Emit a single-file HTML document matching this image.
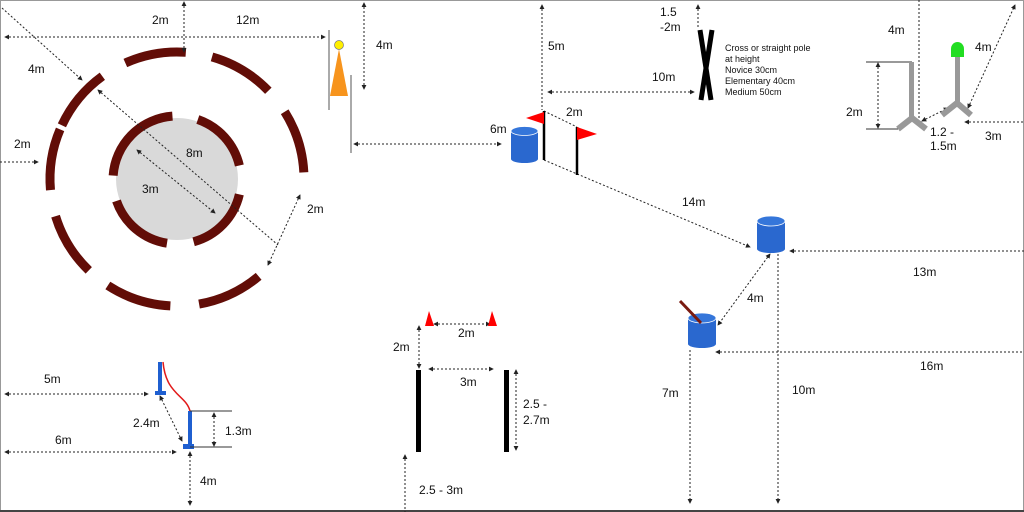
<!DOCTYPE html>
<html><head><meta charset="utf-8"><style>
html,body{margin:0;padding:0;background:#fff}
svg{display:block}
text{font-family:"Liberation Sans",Arial,sans-serif;font-size:12px;fill:#111}
.d{stroke:#222;stroke-width:1;stroke-dasharray:2 2;fill:none}
.s{font-size:9px}
</style></head><body>
<svg width="1024" height="512" viewBox="0 0 1024 512" xmlns="http://www.w3.org/2000/svg">
<defs>
<marker id="a" viewBox="0 0 6 6" refX="5" refY="3" markerWidth="5" markerHeight="5" orient="auto-start-reverse"><path d="M0,0 L6,3 L0,6 z" fill="#222"/></marker>
</defs>
<rect x="0.5" y="0.5" width="1023" height="510" fill="#fff" stroke="#999"/>
<line x1="0" y1="511" x2="1024" y2="511" stroke="#444" stroke-width="2"/>

<!-- circles -->
<circle cx="177" cy="179" r="61" fill="#d9d9d9"/>
<g fill="none" stroke="#620d07" stroke-width="9">
<circle cx="177" cy="179" r="127" pathLength="360" stroke-dasharray="28 400" transform="rotate(246 177 179)"/>
<circle cx="177" cy="179" r="127" pathLength="360" stroke-dasharray="30 400" transform="rotate(286 177 179)"/>
<circle cx="177" cy="179" r="127" pathLength="360" stroke-dasharray="29 400" transform="rotate(328 177 179)"/>
<circle cx="177" cy="179" r="127" pathLength="360" stroke-dasharray="30 400" transform="rotate(50 177 179)"/>
<circle cx="177" cy="179" r="127" pathLength="360" stroke-dasharray="30 400" transform="rotate(93 177 179)"/>
<circle cx="177" cy="179" r="127" pathLength="360" stroke-dasharray="29 400" transform="rotate(134 177 179)"/>
<circle cx="177" cy="179" r="127" pathLength="360" stroke-dasharray="28 400" transform="rotate(175 177 179)"/>
<circle cx="177" cy="179" r="127" pathLength="360" stroke-dasharray="29 400" transform="rotate(205 177 179)"/>
<circle cx="177" cy="180" r="64" pathLength="360" stroke-dasharray="82 400" transform="rotate(184 177 180)"/>
<circle cx="177" cy="180" r="64" pathLength="360" stroke-dasharray="58 400" transform="rotate(289 177 180)"/>
<circle cx="177" cy="180" r="64" pathLength="360" stroke-dasharray="62 400" transform="rotate(13 177 180)"/>
<circle cx="177" cy="180" r="64" pathLength="360" stroke-dasharray="62 400" transform="rotate(99 177 180)"/>
</g>

<!-- dashed dimension lines -->
<g class="d">
<line x1="2" y1="8" x2="82" y2="80" marker-end="url(#a)"/>
<line x1="5" y1="37" x2="325" y2="37" marker-start="url(#a)" marker-end="url(#a)"/>
<line x1="184" y1="2" x2="184" y2="52" marker-start="url(#a)" marker-end="url(#a)"/>
<line x1="0" y1="162" x2="38" y2="162" marker-end="url(#a)"/>
<line x1="98" y1="90" x2="278" y2="245" marker-start="url(#a)"/>
<line x1="137" y1="150" x2="215" y2="213" marker-start="url(#a)" marker-end="url(#a)"/>
<line x1="300" y1="195" x2="268" y2="265" marker-start="url(#a)" marker-end="url(#a)"/>
<line x1="364" y1="3" x2="364" y2="89" marker-start="url(#a)" marker-end="url(#a)"/>
<line x1="354" y1="144" x2="501" y2="144" marker-start="url(#a)" marker-end="url(#a)"/>
<line x1="542" y1="5" x2="542" y2="110" marker-start="url(#a)"/>
<line x1="548" y1="92" x2="694" y2="92" marker-start="url(#a)" marker-end="url(#a)"/>
<line x1="698" y1="5" x2="698" y2="28" marker-start="url(#a)"/>
<line x1="544" y1="111" x2="577" y2="127"/>
<line x1="544" y1="160" x2="750" y2="247" marker-end="url(#a)"/>
<line x1="919" y1="0" x2="919" y2="125" marker-end="url(#a)"/>
<line x1="878" y1="63" x2="878" y2="128" marker-start="url(#a)" marker-end="url(#a)"/>
<line x1="922" y1="121" x2="948" y2="108" marker-start="url(#a)" marker-end="url(#a)"/>
<line x1="968" y1="108" x2="1015" y2="5" marker-start="url(#a)" marker-end="url(#a)"/>
<line x1="965" y1="122" x2="1024" y2="122" marker-start="url(#a)"/>
<line x1="790" y1="251" x2="1024" y2="251" marker-start="url(#a)"/>
<line x1="770" y1="254" x2="718" y2="325" marker-start="url(#a)" marker-end="url(#a)"/>
<line x1="690" y1="350" x2="690" y2="503" marker-end="url(#a)"/>
<line x1="778" y1="254" x2="778" y2="503" marker-end="url(#a)"/>
<line x1="716" y1="352" x2="1024" y2="352" marker-start="url(#a)"/>
<line x1="434" y1="324" x2="490" y2="324" marker-start="url(#a)" marker-end="url(#a)"/>
<line x1="419" y1="326" x2="419" y2="368" marker-start="url(#a)" marker-end="url(#a)"/>
<line x1="429" y1="369" x2="493" y2="369" marker-start="url(#a)" marker-end="url(#a)"/>
<line x1="516" y1="370" x2="516" y2="450" marker-start="url(#a)" marker-end="url(#a)"/>
<line x1="405" y1="455" x2="405" y2="512" marker-start="url(#a)"/>
<line x1="5" y1="394" x2="148" y2="394" marker-start="url(#a)" marker-end="url(#a)"/>
<line x1="160" y1="396" x2="182" y2="441" marker-start="url(#a)" marker-end="url(#a)"/>
<line x1="214" y1="413" x2="214" y2="446" marker-start="url(#a)" marker-end="url(#a)"/>
<line x1="5" y1="452" x2="176" y2="452" marker-start="url(#a)" marker-end="url(#a)"/>
<line x1="190" y1="452" x2="190" y2="505" marker-start="url(#a)" marker-end="url(#a)"/>
</g>

<!-- cone with poles -->
<line x1="329" y1="30" x2="329" y2="110" stroke="#555" stroke-width="1"/>
<line x1="351" y1="75" x2="351" y2="153" stroke="#555" stroke-width="1"/>
<polygon points="339,49 330,96 348,96" fill="#f7941d"/>
<circle cx="339" cy="45" r="4.5" fill="#ffef00" stroke="#777" stroke-width="0.7"/>

<!-- barrel 1 -->
<rect x="511" y="131" width="27" height="28" fill="#2a68cf"/>
<ellipse cx="524.5" cy="159" rx="13.5" ry="4" fill="#2a68cf"/>
<ellipse cx="524.5" cy="131" rx="13.5" ry="4.5" fill="#3576da" stroke="#fff" stroke-width="0.8"/>
<!-- flags -->
<line x1="544" y1="111" x2="544" y2="160" stroke="#000" stroke-width="2.5"/>
<polygon points="544,112 526,118 544,124" fill="#f00"/>
<line x1="577" y1="127" x2="577" y2="175" stroke="#000" stroke-width="2.5"/>
<polygon points="577,127 597,134 577,140" fill="#f00"/>

<!-- X -->
<line x1="700" y1="30" x2="711" y2="100" stroke="#000" stroke-width="5"/>
<line x1="712" y1="30" x2="701" y2="100" stroke="#000" stroke-width="5"/>

<!-- stands -->
<line x1="866" y1="62" x2="912" y2="62" stroke="#333" stroke-width="1"/>
<line x1="866" y1="129" x2="898" y2="129" stroke="#333" stroke-width="1"/>
<rect x="909" y="62" width="5" height="58" fill="#999"/>
<g stroke="#999" stroke-width="6" stroke-linecap="butt">
<line x1="898" y1="129" x2="912" y2="118"/>
<line x1="926" y1="129" x2="912" y2="118"/>
<line x1="942" y1="115" x2="957" y2="103"/>
<line x1="971" y1="115" x2="957" y2="103"/>
</g>
<rect x="955" y="56" width="5" height="50" fill="#999"/>
<path d="M951,57 L951,49 A6.5,7 0 0 1 964,49 L964,57 Z" fill="#22dd22"/>

<!-- barrel 2 -->
<rect x="757" y="221" width="28" height="28" fill="#2a68cf"/>
<ellipse cx="771" cy="249" rx="14" ry="4" fill="#2a68cf"/>
<ellipse cx="771" cy="221" rx="14" ry="5" fill="#3576da" stroke="#fff" stroke-width="0.8"/>
<!-- barrel 3 -->
<rect x="688" y="318" width="28" height="26" fill="#2a68cf"/>
<ellipse cx="702" cy="344" rx="14" ry="4" fill="#2a68cf"/>
<ellipse cx="702" cy="318" rx="14" ry="5" fill="#3576da" stroke="#fff" stroke-width="0.8"/>
<line x1="680" y1="301" x2="701" y2="323" stroke="#7a1a10" stroke-width="3"/>

<!-- cones & poles bottom middle -->
<polygon points="429,311 425,326 434,326" fill="#f00"/>
<polygon points="492,311 488,326 497,326" fill="#f00"/>
<rect x="416" y="370" width="5" height="82" fill="#000"/>
<rect x="504" y="370" width="5" height="82" fill="#000"/>

<!-- bottom-left poles -->
<rect x="158" y="362" width="4" height="31" fill="#1f5fd0"/>
<rect x="155" y="391" width="11" height="4" fill="#1f5fd0"/>
<path d="M163,362 C166,395 186,395 190,411" fill="none" stroke="#e21b1b" stroke-width="1.5"/>
<rect x="188" y="411" width="4" height="35" fill="#1f5fd0"/>
<rect x="183" y="444" width="11" height="5" fill="#1f5fd0"/>
<line x1="190" y1="411" x2="232" y2="411" stroke="#333"/>
<line x1="190" y1="447" x2="232" y2="447" stroke="#333"/>

<!-- labels -->
<text x="152" y="24">2m</text>
<text x="236" y="24">12m</text>
<text x="28" y="73">4m</text>
<text x="14" y="148">2m</text>
<text x="186" y="157">8m</text>
<text x="142" y="193">3m</text>
<text x="307" y="213">2m</text>
<text x="376" y="49">4m</text>
<text x="490" y="133">6m</text>
<text x="548" y="50">5m</text>
<text x="566" y="116">2m</text>
<text x="652" y="81">10m</text>
<text x="660" y="16">1.5</text>
<text x="660" y="31">-2m</text>
<text class="s" x="725" y="51">Cross or straight pole</text>
<text class="s" x="725" y="62">at height</text>
<text class="s" x="725" y="73">Novice 30cm</text>
<text class="s" x="725" y="84">Elementary 40cm</text>
<text class="s" x="725" y="95">Medium 50cm</text>
<text x="682" y="206">14m</text>
<text x="888" y="34">4m</text>
<text x="975" y="51">4m</text>
<text x="846" y="116">2m</text>
<text x="930" y="136" font-size="11">1.2 -</text>
<text x="930" y="150" font-size="11">1.5m</text>
<text x="985" y="140">3m</text>
<text x="913" y="276">13m</text>
<text x="747" y="302">4m</text>
<text x="920" y="370">16m</text>
<text x="662" y="397">7m</text>
<text x="792" y="394">10m</text>
<text x="458" y="337">2m</text>
<text x="393" y="351">2m</text>
<text x="460" y="386">3m</text>
<text x="523" y="408">2.5 -</text>
<text x="523" y="424">2.7m</text>
<text x="419" y="494">2.5 - 3m</text>
<text x="44" y="383">5m</text>
<text x="133" y="427">2.4m</text>
<text x="225" y="435">1.3m</text>
<text x="55" y="444">6m</text>
<text x="200" y="485">4m</text>
</svg>
</body></html>
